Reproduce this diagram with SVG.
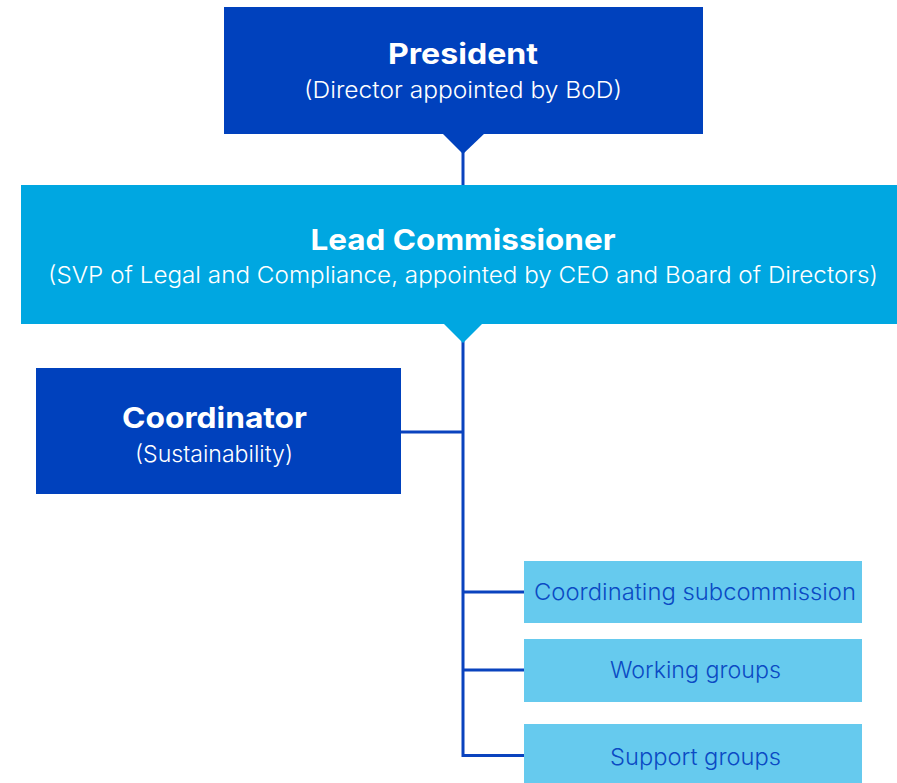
<svg xmlns="http://www.w3.org/2000/svg" width="897" height="783" viewBox="0 0 897 783">
  <style>
    .dark { fill: #0041BD; }
    .mid { fill: #00A7E1; }
    .light { fill: #66CAEE; }
    .title { font-family: Inter, "Liberation Sans", sans-serif; font-weight: 700; font-size: 29px; fill: #FFFFFF; text-anchor: middle; }
    .sub { font-family: Inter, "Liberation Sans", sans-serif; font-weight: 300; font-size: 23px; fill: #FFFFFF; text-anchor: middle; }
    .leaf { font-family: Inter, "Liberation Sans", sans-serif; font-weight: 300; font-size: 23px; fill: #0B4AC4; text-anchor: middle; }
    .link { stroke: #0A43BE; stroke-width: 3; fill: none; }
  </style>

  <!-- connectors -->
  <g id="connectors">
    <line class="link" x1="463" y1="150" x2="463" y2="186"/>
    <polyline class="link" points="463,340 463,755.5 524,755.5"/>
    <line class="link" x1="401" y1="432" x2="463" y2="432"/>
    <line class="link" x1="463" y1="592" x2="524" y2="592"/>
    <line class="link" x1="463" y1="670" x2="524" y2="670"/>
  </g>

  <g id="president">
    <rect class="dark" x="224" y="7" width="479" height="127"/>
    <polygon class="dark" points="442,133 485,133 463,154"/>
    <text class="title" x="463" y="64" textLength="150" lengthAdjust="spacingAndGlyphs">President</text>
    <text class="sub" x="463" y="98" textLength="318" lengthAdjust="spacingAndGlyphs">(Director appointed by BoD)</text>
  </g>

  <g id="lead-commissioner">
    <rect class="mid" x="21" y="185" width="876" height="139"/>
    <polygon class="mid" points="443,323 483,323 463,343"/>
    <text class="title" x="463" y="250" textLength="305" lengthAdjust="spacingAndGlyphs">Lead Commissioner</text>
    <text class="sub" x="463" y="283" textLength="830" lengthAdjust="spacingAndGlyphs">(SVP of Legal and Compliance, appointed by CEO and Board of Directors)</text>
  </g>

  <g id="coordinator">
    <rect class="dark" x="36" y="368" width="365" height="126"/>
    <text class="title" x="214.5" y="428" textLength="185" lengthAdjust="spacingAndGlyphs">Coordinator</text>
    <text class="sub" x="214" y="462" textLength="158" lengthAdjust="spacingAndGlyphs">(Sustainability)</text>
  </g>

  <g id="coordinating-subcommission">
    <rect class="light" x="524" y="561" width="338" height="62"/>
    <text class="leaf" x="695" y="600" textLength="322" lengthAdjust="spacingAndGlyphs">Coordinating subcommission</text>
  </g>

  <g id="working-groups">
    <rect class="light" x="524" y="639" width="338" height="63"/>
    <text class="leaf" x="695.5" y="678" textLength="171" lengthAdjust="spacingAndGlyphs">Working groups</text>
  </g>

  <g id="support-groups">
    <rect class="light" x="524" y="724" width="338" height="59"/>
    <text class="leaf" x="695.5" y="765" textLength="171" lengthAdjust="spacingAndGlyphs">Support groups</text>
  </g>
</svg>
